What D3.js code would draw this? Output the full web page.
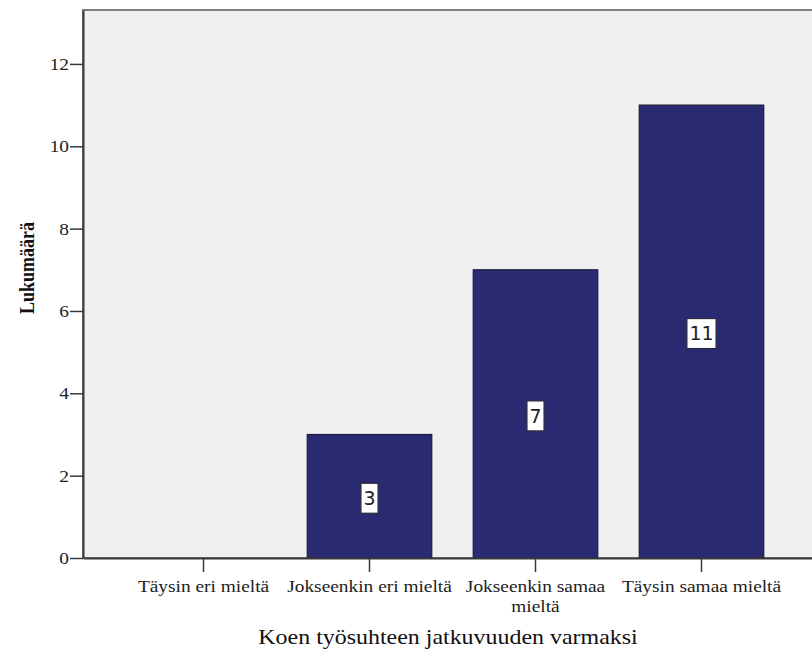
<!DOCTYPE html>
<html><head><meta charset="utf-8">
<script src="https://cdn.jsdelivr.net/npm/d3@7"></script>
<style>body{margin:0;background:#fff}svg{display:block}</style>
</head><body>
<svg id="c" width="812" height="659"></svg>
<script>
const categories = ["Täysin eri mieltä", "Jokseenkin eri mieltä", "Jokseenkin samaa mieltä", "Täysin samaa mieltä"];
const categoryLines = [["Täysin eri mieltä"], ["Jokseenkin eri mieltä"], ["Jokseenkin samaa", "mieltä"], ["Täysin samaa mieltä"]];
const counts = [0, 3, 7, 11];
const yTicks = [0, 2, 4, 6, 8, 10, 12];
const xTitle = "Koen työsuhteen jatkuvuuden varmaksi";
const yTitle = "Lukumäärä";

const svg = d3.select("#c");
const L = 83, R = 822, T = 10, B = 558;
const SX = 1.14; // horizontal stretch of the reference's text
const serif = "'Liberation Serif','Times New Roman',serif";

const x = d3.scaleBand().domain(categories).range([L, R]).paddingInner(0.25).paddingOuter(0.351);
const y = d3.scaleLinear().domain([0, 13.31]).range([B, T]);

// plot background + frame
svg.append("rect").attr("x", L).attr("y", T).attr("width", R - L).attr("height", B - T)
  .attr("fill", "#f0f0f0").attr("stroke", "#7f7f7f").attr("stroke-width", 2);

const data = categories.map((c, i) => ({c, v: counts[i]})).filter(d => d.v > 0);

// bars
svg.selectAll("rect.bar").data(data)
  .join("rect").attr("class", "bar")
  .attr("x", d => x(d.c)).attr("width", x.bandwidth())
  .attr("y", d => y(d.v)).attr("height", d => y(0) - y(d.v))
  .attr("fill", "#2a2a72").attr("stroke", "#1c1c3a").attr("stroke-width", 1.2);

// axes
const yAxis = d3.axisLeft(y).tickValues(yTicks).tickSize(13).tickSizeOuter(0).tickPadding(1).tickFormat(d3.format("d"));
const gy = svg.append("g").attr("transform", `translate(${L},0)`).call(yAxis);
gy.select(".domain").attr("stroke", "#3a3a3a").attr("stroke-width", 2);
gy.selectAll(".tick line").attr("stroke", "#3a3a3a").attr("stroke-width", 1.5);
gy.selectAll(".tick text").attr("font-family", serif).attr("font-size", 17).attr("fill", "#222")
  .attr("transform", function() { const tx = +d3.select(this).attr("x"); return `translate(${tx},0) scale(${SX},1) translate(${-tx},0)`; });

const xAxis = d3.axisBottom(x).tickSize(14).tickSizeOuter(0).tickFormat("");
const gx = svg.append("g").attr("transform", `translate(0,${B})`).call(xAxis);
gx.select(".domain").attr("stroke", "#3a3a3a").attr("stroke-width", 2);
gx.selectAll(".tick line").attr("stroke", "#3a3a3a").attr("stroke-width", 1.5);

// category labels
categories.forEach((c, i) => {
  const cx = x(c) + x.bandwidth() / 2;
  const t = svg.append("text").attr("transform", `translate(${cx},592) scale(${SX},1)`)
    .attr("text-anchor", "middle").attr("font-family", serif).attr("font-size", 17).attr("fill", "#222");
  categoryLines[i].forEach((ln, j) => t.append("tspan").attr("x", 0).attr("dy", j ? 20 : 0).text(ln));
});

// value labels
const lab = svg.selectAll("g.lab").data(data)
  .join("g").attr("class", "lab")
  .attr("transform", d => `translate(${x(d.c) + x.bandwidth() / 2},${y(d.v / 2) + 2})`);
lab.each(function(d) {
  const g = d3.select(this);
  const r = g.append("rect");
  const t = g.append("text").text(d.v).attr("text-anchor", "middle").attr("dy", "0.36em")
    .attr("font-family", "'DejaVu Sans',sans-serif").attr("font-size", 19).attr("fill", "#222");
  const w = t.node().getComputedTextLength() + 5;
  r.attr("x", -w / 2).attr("y", -15).attr("width", w).attr("height", 30)
    .attr("fill", "#fff").attr("stroke", "#2a2a3a").attr("stroke-width", 1.2);
});

// titles
svg.append("text").attr("transform", `translate(448,644) scale(${SX},1)`).attr("text-anchor", "middle")
  .attr("font-family", serif).attr("font-size", 21).attr("fill", "#111").text(xTitle);
svg.append("text").attr("transform", `translate(34,268) rotate(-90) scale(1,${SX})`).attr("text-anchor", "middle")
  .attr("font-family", serif).attr("font-size", 18).attr("font-weight", "bold").attr("fill", "#111").text(yTitle);
</script>
</body></html>
